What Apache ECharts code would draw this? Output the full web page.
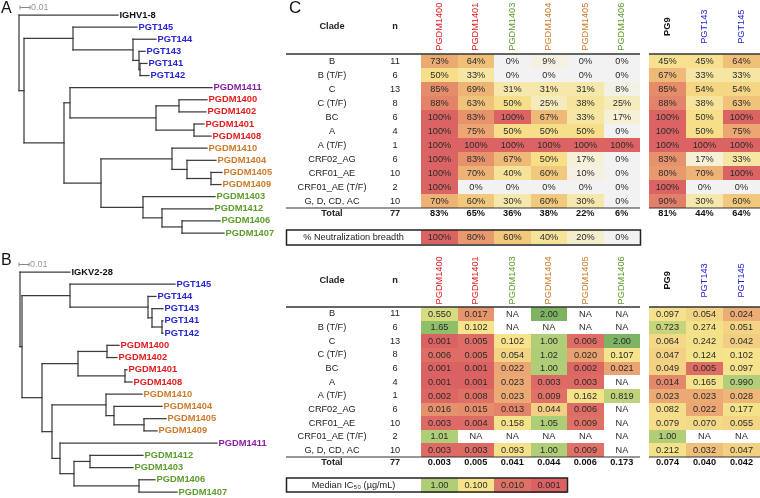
<!DOCTYPE html>
<html><head><meta charset="utf-8">
<script src="https://cdn.jsdelivr.net/npm/echarts/dist/echarts.min.js"></script>
<style>html,body{margin:0;padding:0;background:#fff}#c{width:760px;height:498px}</style>
</head><body><div id="c"></div>
<script>
// ================= DATA =================
// Phylogenetic trees: [name, depth (substitutions/site from root), children]
const treeA = ['', 0, [
  ['IGHV1-8', 0.099],
  ['', 0.005, [
    ['', 0.054, [
      ['PGT145', 0.118],
      ['', 0.114, [
        ['PGT144', 0.137],
        ['', 0.120, [
          ['PGT143', 0.126],
          ['', 0.121, [['PGT141', 0.128], ['PGT142', 0.130]]]
        ]]
      ]]
    ]],
    ['', 0.045, [
      ['', 0.051, [
        ['PGDM1411', 0.193],
        ['', 0.137, [
          ['', 0.160, [['PGDM1400', 0.188], ['PGDM1402', 0.187]]],
          ['', 0.175, [['PGDM1401', 0.185], ['PGDM1408', 0.192]]]
        ]]
      ]],
      ['', 0.082, [
        ['', 0.153, [
          ['PGDM1410', 0.188],
          ['', 0.168, [
            ['PGDM1404', 0.197],
            ['', 0.192, [['PGDM1405', 0.203], ['PGDM1409', 0.202]]]
          ]]
        ]],
        ['', 0.124, [
          ['PGDM1403', 0.196],
          ['', 0.143, [
            ['PGDM1412', 0.194],
            ['', 0.163, [['PGDM1406', 0.201], ['PGDM1407', 0.205]]]
          ]]
        ]]
      ]]
    ]]
  ]]
]];

const treeB = ['', 0, [
  ['IGKV2-28', 0.050],
  ['', 0.002, [
    ['', 0.050, [
      ['PGT145', 0.155],
      ['', 0.128, [
        ['PGT144', 0.136],
        ['', 0.132, [
          ['PGT143', 0.143],
          ['', 0.142, [['PGT141', 0.143], ['PGT142', 0.143]]]
        ]]
      ]]
    ]],
    ['', 0.022, [
      ['', 0.058, [
        ['', 0.087, [['PGDM1400', 0.099], ['PGDM1402', 0.097]]],
        ['', 0.105, [['PGDM1401', 0.107], ['PGDM1408', 0.112]]]
      ]],
      ['', 0.032, [
        ['', 0.086, [
          ['PGDM1410', 0.122],
          ['', 0.094, [
            ['PGDM1404', 0.142],
            ['', 0.124, [['PGDM1405', 0.146], ['PGDM1409', 0.137]]]
          ]]
        ]],
        ['', 0.040, [
          ['PGDM1411', 0.197],
          ['', 0.054, [
            ['', 0.070, [['PGDM1412', 0.123], ['PGDM1403', 0.113]]],
            ['', 0.119, [['PGDM1406', 0.135], ['PGDM1407', 0.157]]]
          ]]
        ]]
      ]]
    ]]
  ]]
]];
const scaleBarLength = 0.01;

const groupGermline = ['IGHV1-8', 'IGKV2-28', 'PG9'];
const groupPGT = ['PGT141', 'PGT142', 'PGT143', 'PGT144', 'PGT145'];
const groupRed = ['PGDM1400', 'PGDM1401', 'PGDM1402', 'PGDM1408'];
const groupOrange = ['PGDM1404', 'PGDM1405', 'PGDM1409', 'PGDM1410'];
const groupGreen = ['PGDM1403', 'PGDM1406', 'PGDM1407', 'PGDM1412'];
const groupPurple = ['PGDM1411'];

// Tables
const clades = ['B', 'B (T/F)', 'C', 'C (T/F)', 'BC', 'A', 'A (T/F)', 'CRF02_AG', 'CRF01_AE', 'CRF01_AE (T/F)', 'G, D, CD, AC'];
const cladeN = [11, 6, 13, 8, 6, 4, 1, 6, 10, 2, 10];
const totalN = 77;
const pgdmAbs = ['PGDM1400', 'PGDM1401', 'PGDM1403', 'PGDM1404', 'PGDM1405', 'PGDM1406'];
const refAbs = ['PG9', 'PGT143', 'PGT145'];

const breadthPGDM = [
  [73, 64, 0, 9, 0, 0],
  [50, 33, 0, 0, 0, 0],
  [85, 69, 31, 31, 31, 8],
  [88, 63, 50, 25, 38, 25],
  [100, 83, 100, 67, 33, 17],
  [100, 75, 50, 50, 50, 0],
  [100, 100, 100, 100, 100, 100],
  [100, 83, 67, 50, 17, 0],
  [100, 70, 40, 60, 10, 0],
  [100, 0, 0, 0, 0, 0],
  [70, 60, 30, 60, 30, 0]
];
const breadthRef = [
  [45, 45, 64], [67, 33, 33], [85, 54, 54], [88, 38, 63], [100, 50, 100], [100, 50, 75],
  [100, 100, 100], [83, 17, 33], [80, 70, 100], [100, 0, 0], [90, 30, 60]
];
const breadthTotalPGDM = [83, 65, 36, 38, 22, 6];
const breadthTotalRef = [81, 44, 64];
const breadthKey = [100, 80, 60, 40, 20, 0];

const ic50PGDM = [
  [0.550, 0.017, null, 2.00, null, null],
  [1.65, 0.102, null, null, null, null],
  [0.001, 0.005, 0.102, 1.00, 0.006, 2.00],
  [0.006, 0.005, 0.054, 1.02, 0.020, 0.107],
  [0.001, 0.001, 0.022, 1.00, 0.002, 0.021],
  [0.001, 0.001, 0.023, 0.003, 0.003, null],
  [0.002, 0.008, 0.023, 0.009, 0.162, 0.819],
  [0.016, 0.015, 0.013, 0.044, 0.006, null],
  [0.003, 0.004, 0.158, 1.05, 0.009, null],
  [1.01, null, null, null, null, null],
  [0.003, 0.003, 0.093, 1.00, 0.009, null]
];
const ic50Ref = [
  [0.097, 0.054, 0.024], [0.723, 0.274, 0.051], [0.064, 0.242, 0.042], [0.047, 0.124, 0.102],
  [0.049, 0.005, 0.097], [0.014, 0.165, 0.990], [0.023, 0.023, 0.028], [0.082, 0.022, 0.177],
  [0.079, 0.070, 0.055], [1.00, null, null], [0.212, 0.032, 0.047]
];
const ic50TotalPGDM = [0.003, 0.005, 0.041, 0.044, 0.006, 0.173];
const ic50TotalRef = [0.074, 0.040, 0.042];
const ic50Key = [1.00, 0.100, 0.010, 0.001];

// ================= STYLE =================
const FONT = '"Liberation Sans", Arial, Helvetica, sans-serif';
const COLORS = { germline: '#111111', pgt: '#2626d4', red: '#e21d1d', orange: '#cd7b2a', green: '#5c9d2b', purple: '#8a1fa2' };
function nameColor(n) {
  if (groupPGT.includes(n)) return COLORS.pgt;
  if (groupRed.includes(n)) return COLORS.red;
  if (groupOrange.includes(n)) return COLORS.orange;
  if (groupGreen.includes(n)) return COLORS.green;
  if (groupPurple.includes(n)) return COLORS.purple;
  return COLORS.germline;
}
const pctStops = [[0, '#f2f2f2'], [17, '#f5f0d6'], [33, '#f6e6a4'], [50, '#f7df89'], [60, '#f2c97c'], [80, '#e89a6e'], [100, '#db6363']];
const icStops = [[-3, '#db6262'], [-2, '#df7266'], [-1.75, '#e8986e'], [-1.4, '#f2cd81'], [-1, '#f6e38c'], [-0.55, '#f3e289'], [-0.26, '#d8db80'], [0, '#b0ce78'], [0.22, '#8fbf69'], [0.301, '#7db362']];
function hex2rgb(h) { return [1, 3, 5].map(i => parseInt(h.substr(i, 2), 16)); }
function interp(stops, v) {
  if (v <= stops[0][0]) return stops[0][1];
  for (let i = 1; i < stops.length; i++) {
    if (v <= stops[i][0]) {
      const t = (v - stops[i - 1][0]) / (stops[i][0] - stops[i - 1][0]);
      const a = hex2rgb(stops[i - 1][1]), b = hex2rgb(stops[i][1]);
      return 'rgb(' + a.map((c, k) => Math.round(c + (b[k] - c) * t)).join(',') + ')';
    }
  }
  return stops[stops.length - 1][1];
}
const pctColor = v => interp(pctStops, v);
const icColor = v => interp(icStops, Math.log10(v));
const pctFmt = v => v + '%';
const icFmt = v => v >= 1 ? v.toFixed(2) : v.toFixed(3);

// ================= TREE LAYOUT =================
function buildTree(tree) {
  const leaves = [], segs = [];
  (function walk(node) {
    const name = node[0], depth = node[1], kids = node[2];
    if (!kids) { leaves.push({ x: depth, y: leaves.length, name }); return leaves.length - 1; }
    const ys = kids.map(walk);
    segs.push([depth, ys[0], depth, ys[ys.length - 1]]);
    kids.forEach((k, i) => segs.push([depth, ys[i], k[1], ys[i]]));
    return (ys[0] + ys[ys.length - 1]) / 2;
  })(tree);
  return { leaves, segs };
}
function treeSeries(tree, gi, barStart) {
  const t = buildTree(tree);
  return [
    { type: 'custom', xAxisIndex: gi, yAxisIndex: gi, clip: false, silent: true, data: t.segs,
      renderItem(p, api) {
        const a = api.coord([api.value(0), api.value(1)]), b = api.coord([api.value(2), api.value(3)]);
        return { type: 'line', shape: { x1: a[0], y1: a[1], x2: b[0], y2: b[1] }, style: { stroke: '#3c3c3c', lineWidth: 1.25, lineCap: 'square' } };
      } },
    { type: 'custom', xAxisIndex: gi, yAxisIndex: gi, clip: false, silent: true, data: t.leaves.map(l => [l.x, l.y]),
      renderItem(p, api) {
        const a = api.coord([api.value(0), api.value(1)]);
        const n = t.leaves[p.dataIndex].name;
        return { type: 'text', x: a[0] + 1.5, y: a[1], style: { text: n, fill: nameColor(n), font: 'bold 9.3px ' + FONT, align: 'left', verticalAlign: 'middle' } };
      } },
    { type: 'custom', xAxisIndex: gi, yAxisIndex: gi, clip: false, silent: true, data: [[barStart, -0.66]],
      renderItem(p, api) {
        const a = api.coord([api.value(0), api.value(1)]), b = api.coord([api.value(0) + scaleBarLength, api.value(1)]);
        const y = Math.round(a[1]) + 0.5;
        return { type: 'group', children: [
          { type: 'line', shape: { x1: a[0], y1: y, x2: b[0], y2: y }, style: { stroke: '#888', lineWidth: 1 } },
          { type: 'line', shape: { x1: a[0], y1: y - 2, x2: a[0], y2: y + 2 }, style: { stroke: '#888', lineWidth: 1 } },
          { type: 'line', shape: { x1: b[0], y1: y - 2, x2: b[0], y2: y + 2 }, style: { stroke: '#888', lineWidth: 1 } },
          { type: 'text', x: b[0] + 1, y: y, style: { text: '0.01', fill: '#999', font: '9px ' + FONT, align: 'left', verticalAlign: 'middle' } }
        ] };
      } }
  ];
}

// ================= TABLE LAYOUT =================
const CLADE_X = -2.44, N_X = -0.71, LEFT_MIN = -3.7, HEADER_Y = -1.95, TOTAL_Y = 11.42, KEY_Y0 = 12.55, KEY_H = 1.05;
function buildTable(abs, vals, totals, fmt, colorFn, withClades, key, keyLabel) {
  const items = [];
  const x0 = withClades ? LEFT_MIN : 0, x1 = abs.length;
  if (withClades) {
    items.push({ k: 'text', x: CLADE_X, y: HEADER_Y, t: 'Clade', bold: true });
    items.push({ k: 'text', x: N_X, y: HEADER_Y, t: 'n', bold: true });
    clades.forEach((c, r) => {
      items.push({ k: 'text', x: CLADE_X, y: r + 0.5, t: c });
      items.push({ k: 'text', x: N_X, y: r + 0.5, t: String(cladeN[r]) });
    });
    items.push({ k: 'text', x: CLADE_X, y: TOTAL_Y, t: 'Total', bold: true });
    items.push({ k: 'text', x: N_X, y: TOTAL_Y, t: String(totalN), bold: true });
  }
  abs.forEach((a, c) => items.push({ k: 'text', x: c + 0.5, y: HEADER_Y, t: a, color: nameColor(a), bold: a === 'PG9', rot: true }));
  vals.forEach((row, r) => row.forEach((v, c) => items.push({ k: 'cell', x: c, y: r, h: 1, t: v == null ? 'NA' : fmt(v), fill: v == null ? null : colorFn(v) })));
  totals.forEach((v, c) => items.push({ k: 'text', x: c + 0.5, y: TOTAL_Y, t: fmt(v), bold: true, color: '#111' }));
  items.push({ k: 'hline', x: x0, x2: x1, y: 0, w: 1.6 });
  items.push({ k: 'hline', x: x0, x2: x1, y: 11, w: 1.1 });
  if (key) {
    key.forEach((v, c) => items.push({ k: 'cell', x: c, y: KEY_Y0, h: KEY_H, t: fmt(v), fill: colorFn(v) }));
    items.push({ k: 'text', x: (LEFT_MIN + 0) / 2, y: KEY_Y0 + KEY_H / 2, t: keyLabel });
    items.push({ k: 'box', x: LEFT_MIN, x2: key.length, y: KEY_Y0, y2: KEY_Y0 + KEY_H });
  }
  return items;
}
function tableSeries(items, gi) {
  return { type: 'custom', xAxisIndex: gi, yAxisIndex: gi, clip: false, silent: true,
    data: items.map(it => [it.x, it.y]),
    renderItem(p, api) {
      const it = items[p.dataIndex];
      const a = api.coord([it.x, it.y]);
      if (it.k === 'cell') {
        const b = api.coord([it.x + 1, it.y + it.h]);
        const X0 = Math.round(a[0]), Y0 = Math.round(a[1]), X1 = Math.round(b[0]), Y1 = Math.round(b[1]);
        const ch = [];
        if (it.fill) ch.push({ type: 'rect', shape: { x: X0, y: Y0, width: X1 - X0, height: Y1 - Y0 }, style: { fill: it.fill } });
        ch.push({ type: 'text', x: (X0 + X1) / 2, y: (Y0 + Y1) / 2, style: { text: it.t, fill: '#2a2a2a', font: '9.2px ' + FONT, align: 'center', verticalAlign: 'middle' } });
        return { type: 'group', children: ch };
      }
      if (it.k === 'text') {
        return { type: 'text', x: a[0], y: a[1], rotation: it.rot ? Math.PI / 2 : 0,
          style: { text: it.t, fill: it.color || '#222', font: (it.bold ? 'bold ' : '') + '9.2px ' + FONT, align: 'center', verticalAlign: 'middle' } };
      }
      if (it.k === 'hline') {
        const b = api.coord([it.x2, it.y]);
        return { type: 'line', shape: { x1: a[0], y1: a[1], x2: b[0], y2: a[1] }, style: { stroke: '#333', lineWidth: it.w } };
      }
      if (it.k === 'box') {
        const b = api.coord([it.x2, it.y2]);
        return { type: 'rect', shape: { x: Math.round(a[0]) + 0.5, y: Math.round(a[1]), width: Math.round(b[0] - a[0]), height: Math.round(b[1] - a[1]) },
          style: { fill: 'none', stroke: '#222', lineWidth: 1.5 } };
      }
    } };
}

// ================= CHART =================
const chart = echarts.init(document.getElementById('c'), null, { renderer: 'canvas' });
const hidden = { show: false, splitLine: { show: false } };
const grids = [
  { left: 19, top: 15, width: 250, height: 218 },
  { left: 20, top: 272, width: 250, height: 220 },
  { left: 286, top: 54, width: 354, height: 196 },
  { left: 649, top: 54, width: 111, height: 196 },
  { left: 286, top: 307, width: 354, height: 196 },
  { left: 649, top: 307, width: 111, height: 196 }
];
const xr = [[0, 0.25], [0, 0.25], [LEFT_MIN, 6], [0, 3], [LEFT_MIN, 6], [0, 3]];
const yr = [[0, 18], [0, 18], [0, 14], [0, 14], [0, 14], [0, 14]];

const series = [].concat(
  treeSeries(treeA, 0, 0.001),
  treeSeries(treeB, 1, -0.001),
  [tableSeries(buildTable(pgdmAbs, breadthPGDM, breadthTotalPGDM, pctFmt, pctColor, true, breadthKey, '% Neutralization breadth'), 2),
   tableSeries(buildTable(refAbs, breadthRef, breadthTotalRef, pctFmt, pctColor, false), 3),
   tableSeries(buildTable(pgdmAbs, ic50PGDM, ic50TotalPGDM, icFmt, icColor, true, ic50Key, 'Median IC\u2085\u2080 (\u00b5g/mL)'), 4),
   tableSeries(buildTable(refAbs, ic50Ref, ic50TotalRef, icFmt, icColor, false), 5)]
);

chart.setOption({
  animation: false,
  backgroundColor: '#fff',
  grid: grids.map(g => Object.assign({ containLabel: false }, g)),
  xAxis: xr.map((r, i) => Object.assign({ type: 'value', gridIndex: i, min: r[0], max: r[1] }, hidden)),
  yAxis: yr.map((r, i) => Object.assign({ type: 'value', gridIndex: i, min: r[0], max: r[1], inverse: true }, hidden)),
  graphic: [
    { type: 'text', left: 1, top: 1, style: { text: 'A', font: '16px ' + FONT, fill: '#111' } },
    { type: 'text', left: 1, top: 253, style: { text: 'B', font: '16px ' + FONT, fill: '#111' } },
    { type: 'text', left: 289, top: 0, style: { text: 'C', font: '17px ' + FONT, fill: '#111' } }
  ],
  series
});
</script>
</body></html>
